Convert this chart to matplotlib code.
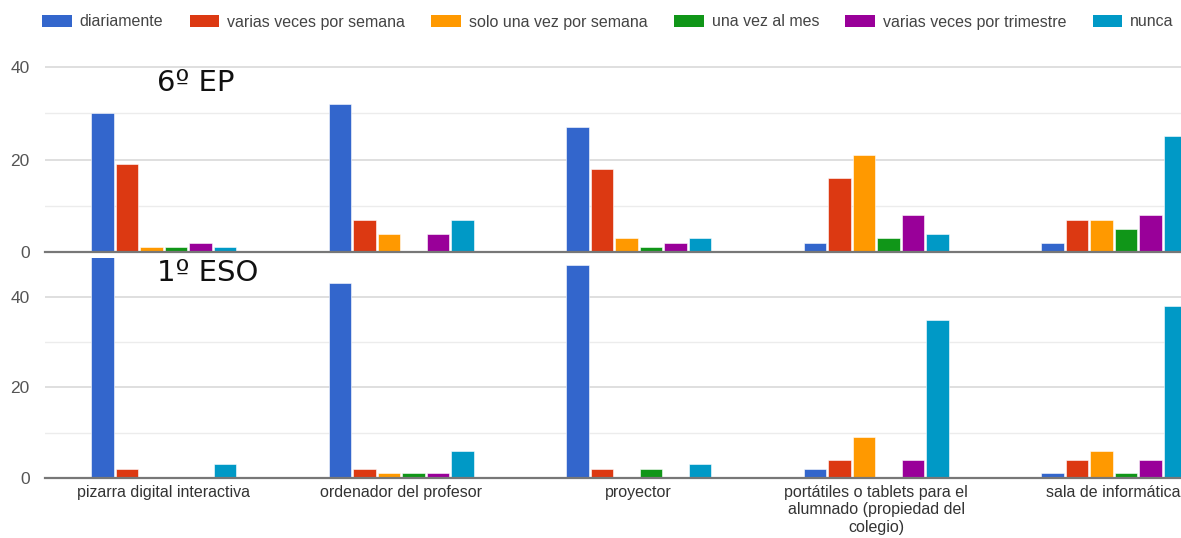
import numpy as np
import matplotlib
matplotlib.use("Agg")
import matplotlib.pyplot as plt
from matplotlib.patches import Patch

# categories and series
categorias = ["pizarra digital interactiva", "ordenador del profesor", "proyector",
              "portátiles o tablets para el\nalumnado (propiedad del\ncolegio)",
              "sala de informática"]
series = ["diariamente", "varias veces por semana", "solo una vez por semana",
          "una vez al mes", "varias veces por trimestre", "nunca"]
colores = ["#3366cc", "#dc3912", "#ff9900", "#109618", "#990099", "#0099c6"]

# 6º EP (one list per series, values per category)
ep_diariamente = [30, 32, 27, 2, 2]
ep_varias_semana = [19, 7, 18, 16, 7]
ep_una_semana = [1, 4, 3, 21, 7]
ep_una_mes = [1, 0, 1, 3, 5]
ep_varias_trimestre = [2, 4, 2, 8, 8]
ep_nunca = [1, 7, 3, 4, 25]

# 1º ESO
eso_diariamente = [50, 43, 47, 2, 1]
eso_varias_semana = [2, 2, 2, 4, 4]
eso_una_semana = [0, 1, 0, 9, 6]
eso_una_mes = [0, 1, 2, 0, 1]
eso_varias_trimestre = [0, 1, 0, 4, 4]
eso_nunca = [3, 6, 3, 35, 38]

ep = [ep_diariamente, ep_varias_semana, ep_una_semana, ep_una_mes, ep_varias_trimestre, ep_nunca]
eso = [eso_diariamente, eso_varias_semana, eso_una_semana, eso_una_mes, eso_varias_trimestre, eso_nunca]

plt.rcParams['font.family'] = ['Liberation Sans', 'DejaVu Sans']

W, H = 1181, 538
fig = plt.figure(figsize=(W / 100, H / 100), dpi=100)

px = 237.5  # pixel width of a category
left = 45 / W
width = 5 * px / W
ax1 = fig.add_axes([left, (H - 252) / H, width, (252 - 57.75) / H])
ax2 = fig.add_axes([left, (H - 478) / H, width, (478 - 258) / H])

x = np.arange(len(categorias))
step = 0.103
bw = 0.096


def draw(ax, data, ytop, showx):
    for i, vals in enumerate(data):
        ax.bar(x + (i - 2.5) * step, vals, width=bw, color=colores[i],
               edgecolor="white", linewidth=0.4, zorder=3)
    ax.set_xlim(-0.5, 4.5)
    ax.set_ylim(0, ytop)
    ax.set_yticks([0, 20, 40])
    ax.set_yticks([10, 30], minor=True)
    ax.grid(axis="y", which="major", color="#d9d9d9", linewidth=1.2, zorder=0)
    ax.grid(axis="y", which="minor", color="#ececec", linewidth=1.0, zorder=0)
    for s in ["top", "right", "left"]:
        ax.spines[s].set_visible(False)
    ax.spines["bottom"].set_color("#777777")
    ax.spines["bottom"].set_linewidth(1.6)
    ax.spines["bottom"].set_zorder(4)
    ax.tick_params(axis="y", which="both", length=0, pad=11, labelsize=12.5, labelcolor="#555555")
    ax.tick_params(axis="x", length=0, pad=5, labelsize=11.5, labelcolor="#333333")
    ax.set_xticks(x)
    if showx:
        ax.set_xticklabels(categorias, linespacing=1.2)
    else:
        ax.set_xticklabels([])
    ax.set_facecolor("none")


draw(ax1, ep, 42, False)
draw(ax2, eso, 48.6, True)

fig.text(157 / W, 1 - 83 / H, "6º EP", fontsize=21, family=["DejaVu Sans"],
         va="center", ha="left", color="#111111")
fig.text(157 / W, 1 - 273 / H, "1º ESO", fontsize=21, family=["DejaVu Sans"],
         va="center", ha="left", color="#111111")

handles = [Patch(facecolor=c, edgecolor="none") for c in colores]
fig.legend(handles, series, loc="center", bbox_to_anchor=(608 / W, 1 - 22 / H), ncol=6,
           frameon=False, fontsize=11.5, handlelength=1.85, handleheight=0.8,
           handletextpad=0.5, columnspacing=1.65, labelcolor="#444444")

fig.savefig("out.png", dpi=100)
